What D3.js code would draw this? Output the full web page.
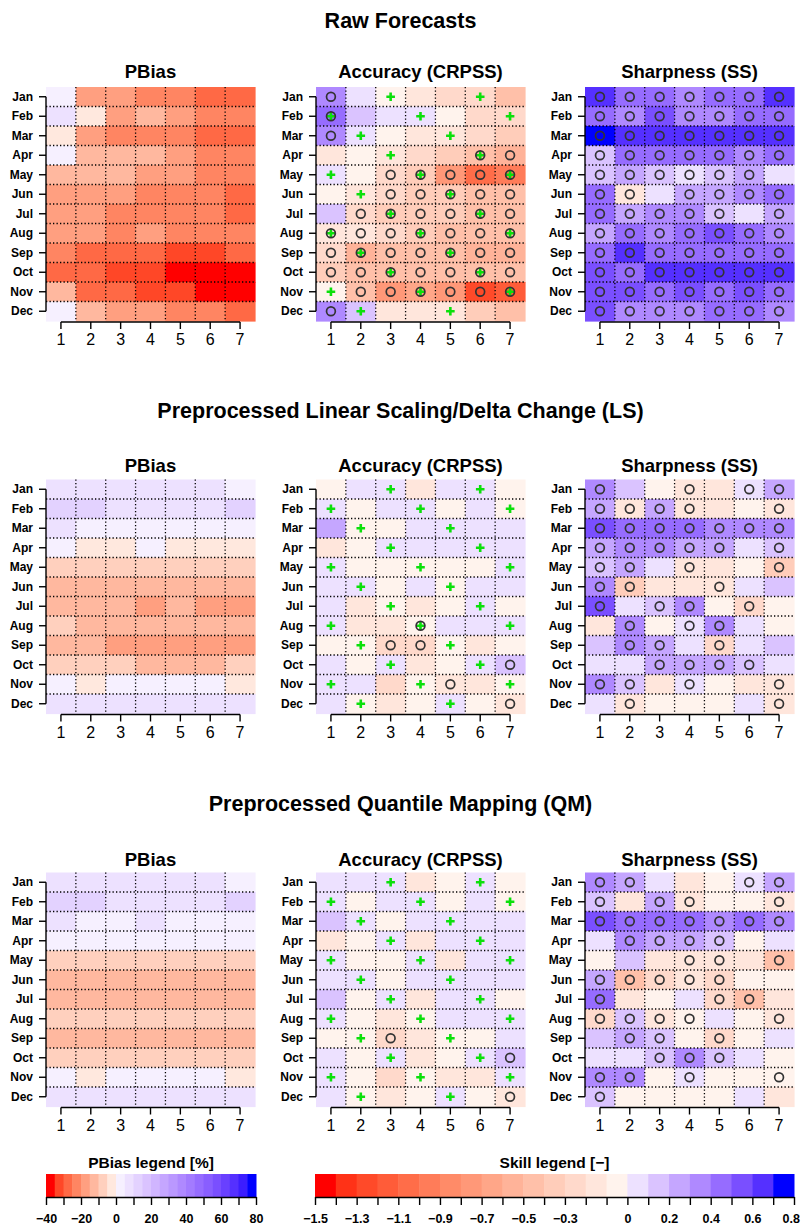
<!DOCTYPE html>
<html>
<head>
<meta charset="utf-8">
<script src="https://cdn.jsdelivr.net/npm/d3@7"></script>
<style>
  body { margin: 0; background: #fff; }
  text { font-family: "Liberation Sans", Arial, Helvetica, sans-serif; fill: #000; }
</style>
</head>
<body>
<script>
// ---- categories -------------------------------------------------------
const months = ["Jan","Feb","Mar","Apr","May","Jun","Jul","Aug","Sep","Oct","Nov","Dec"];
const leads = [1, 2, 3, 4, 5, 6, 7];
const rowTitles = ["Raw Forecasts", "Preprocessed Linear Scaling/Delta Change (LS)", "Preprocessed Quantile Mapping (QM)"];
const panelTitles = ["PBias", "Accuracy (CRPSS)", "Sharpness (SS)"];

// ---- legend ticks ------------------------------------------------------
const pbiasLegendLabels = [-40, -20, 0, 20, 40, 60, 80];
const skillLegendLabels = [-1.5, -1.3, -1.1, -0.9, -0.7, -0.5, -0.3, 0, 0.2, 0.4, 0.6, 0.8];

// ---- values: rows = months, columns = lead 1..7 -------------------------
// marks: C = circle, G = green cross, B = both, . = none
const rawPBias = [
  [3,-17,-17,-22,-22,-27,-27],
  [8,-3,-17,-13,-17,-22,-22],
  [-3,-17,-22,-22,-22,-27,-27],
  [3,-12,-13,-13,-17,-22,-22],
  [-12,-12,-13,-17,-17,-22,-22],
  [-17,-17,-17,-22,-22,-22,-27],
  [-17,-17,-22,-22,-22,-22,-27],
  [-17,-17,-22,-17,-22,-22,-22],
  [-22,-27,-27,-27,-32,-32,-27],
  [-27,-27,-32,-32,-38,-38,-38],
  [-12,-27,-27,-32,-32,-38,-38],
  [3,-12,-17,-17,-22,-22,-27]
];
const rawCRPSS = [
  [0.35,0.05,-0.05,-0.15,-0.25,-0.25,-0.45],
  [0.45,0.15,0.05,0.05,-0.05,-0.25,-0.25],
  [0.35,0.05,-0.05,-0.15,-0.15,-0.25,-0.35],
  [-0.15,-0.05,-0.15,-0.25,-0.35,-0.45,-0.55],
  [0.05,-0.05,-0.25,-0.35,-0.75,-1.05,-0.95],
  [-0.05,-0.15,-0.25,-0.35,-0.35,-0.45,-0.45],
  [0.15,-0.25,-0.35,-0.35,-0.35,-0.45,-0.45],
  [-0.15,-0.15,-0.25,-0.35,-0.45,-0.45,-0.45],
  [-0.25,-0.55,-0.45,-0.45,-0.45,-0.55,-0.55],
  [-0.35,-0.45,-0.45,-0.45,-0.45,-0.45,-0.45],
  [-0.05,-0.45,-0.75,-0.65,-0.75,-1.25,-1.15],
  [0.35,0.15,-0.15,-0.15,-0.15,-0.35,-0.45]
];
const rawCRPSSMarks = ["C.G..G.","B..G..G","CG..G..","..G..BC","G.CBCCB",".GCCBCC",
                       ".CBCCBC","BCCBCCB","CBCCBCC","CCBCCBC","GCCBCCB","CG..G.."];
const rawSS = [
  [0.65,0.45,0.45,0.35,0.45,0.45,0.65],
  [0.45,0.35,0.55,0.35,0.35,0.45,0.45],
  [0.75,0.65,0.65,0.65,0.65,0.65,0.65],
  [0.15,0.45,0.45,0.45,0.45,0.35,0.45],
  [0.15,0.25,0.15,0.05,0.15,0.25,0.05],
  [0.45,-0.15,0.05,0.25,0.25,0.35,0.45],
  [0.45,0.25,0.35,0.35,0.15,0.05,0.25],
  [0.25,0.45,0.35,0.45,0.55,0.45,0.35],
  [0.45,0.65,0.45,0.45,0.45,0.45,0.45],
  [0.55,0.45,0.65,0.65,0.65,0.65,0.65],
  [0.55,0.55,0.45,0.55,0.45,0.55,0.45],
  [0.55,0.35,0.35,0.35,0.45,0.45,0.35]
];
const rawSSMarks = ["CCCCCCC","CCCCCCC","CCCCCCC","CCCCCCC","CCCCCC.","CC.CCCC",
                    "CCCCC.C","CCCCCCC","CCCCCCC","CCCCCCC","CCCCCCC","CCCCCCC"];

const lsPBias = [
  [8,8,8,8,8,8,3],
  [13,13,8,8,8,8,13],
  [8,3,3,3,3,3,3],
  [3,-3,-3,3,-3,-3,-3],
  [-8,-8,-8,-8,-8,-8,-8],
  [-13,-13,-13,-13,-13,-13,-13],
  [-13,-13,-13,-18,-13,-18,-18],
  [-8,-13,-13,-13,-13,-13,-13],
  [-13,-13,-18,-18,-18,-18,-18],
  [-8,-8,-8,-13,-13,-13,-8],
  [3,-3,3,3,3,3,-3],
  [8,8,8,8,8,8,8]
];
const lsCRPSS = [
  [-0.05,0.05,0.05,-0.15,0.05,0.05,-0.05],
  [0.05,-0.05,0.05,0.05,-0.05,0.05,-0.05],
  [0.25,-0.05,-0.05,0.05,0.05,0.05,0.05],
  [-0.15,-0.05,0.05,0.05,0.05,0.05,0.05],
  [0.05,-0.05,-0.05,-0.05,-0.05,-0.05,0.05],
  [0.05,0.05,-0.05,0.05,-0.05,0.05,0.05],
  [0.05,-0.15,-0.05,-0.15,-0.05,0.05,-0.05],
  [0.05,-0.15,-0.15,-0.05,0.05,0.05,0.05],
  [-0.05,-0.05,-0.25,-0.25,-0.05,-0.15,-0.05],
  [0.05,-0.05,0.05,-0.15,-0.05,0.05,0.15],
  [0.05,0.05,-0.25,-0.05,-0.15,-0.15,-0.05],
  [0.05,-0.05,-0.15,-0.05,0.05,-0.05,-0.15]
];
const lsCRPSSMarks = ["..G..G.","G..G..G",".G..G..","..G..G.","G..G..G",".G..G..",
                      "..G..G.","G..B..G",".GCCG..","..G..GC","G..GC.G",".G..G.C"];
const lsSS = [
  [0.35,0.15,-0.05,-0.15,-0.15,0.05,0.25],
  [0.25,-0.15,0.25,-0.15,-0.15,-0.05,-0.15],
  [0.55,0.45,0.45,0.45,0.35,0.35,0.35],
  [0.25,0.35,0.35,0.25,0.25,0.05,0.15],
  [0.15,0.25,0.05,-0.15,-0.15,-0.05,-0.35],
  [0.35,-0.35,-0.15,-0.15,-0.15,0.05,0.15],
  [0.55,0.05,0.15,0.35,-0.05,-0.25,-0.05],
  [-0.15,0.35,-0.05,0.05,0.35,0.05,-0.05],
  [0.15,0.35,0.25,0.05,-0.25,0.05,0.15],
  [0.05,0.05,0.25,0.25,0.25,0.15,0.05],
  [0.35,0.15,-0.15,0.05,-0.05,-0.15,-0.15],
  [0.05,-0.15,-0.05,-0.05,-0.05,0.05,-0.15]
];
const lsSSMarks = ["C..C.CC","CCCC..C","CCCCCCC","CCCCC.C","CC.C..C","CC..C..",
                   "C.CC.C.",".C.CC..",".CC.C..","..CCCC.","CC.C..C",".C....C"];

const qmPBias = [
  [8,8,8,8,8,8,3],
  [13,13,8,8,8,8,13],
  [8,3,3,8,3,3,3],
  [3,3,3,3,3,3,3],
  [-8,-8,-8,-8,-8,-8,-8],
  [-13,-13,-13,-13,-13,-13,-13],
  [-13,-13,-13,-13,-13,-13,-13],
  [-8,-8,-8,-8,-8,-8,-8],
  [-13,-13,-13,-13,-13,-13,-13],
  [-8,-8,-8,-8,-8,-8,-8],
  [3,-3,3,3,3,3,-3],
  [8,8,8,8,8,8,8]
];
const qmCRPSS = [
  [0.05,0.05,0.05,-0.15,-0.05,0.05,-0.05],
  [0.05,-0.05,0.05,0.05,-0.05,0.05,-0.05],
  [0.15,0.05,-0.05,0.05,0.05,0.05,0.05],
  [-0.15,-0.05,0.05,-0.15,0.05,0.05,0.05],
  [0.05,-0.05,-0.05,0.05,-0.15,0.05,0.05],
  [0.05,0.05,-0.05,0.05,0.05,0.05,0.05],
  [0.15,-0.05,0.05,-0.15,0.05,0.05,-0.05],
  [0.05,-0.05,-0.15,-0.05,0.05,0.05,0.05],
  [-0.05,-0.05,-0.25,-0.15,-0.05,-0.05,0.05],
  [0.05,-0.05,0.05,-0.15,-0.05,0.05,0.15],
  [0.05,-0.05,-0.25,-0.05,-0.15,-0.15,0.05],
  [0.05,-0.05,-0.15,-0.05,0.05,-0.05,-0.15]
];
const qmCRPSSMarks = ["..G..G.","G..G..G",".G..G..","..G..G.","G..G..G",".G..G..",
                      "..G..G.","G..G..G",".GC.G..","..G..GC","G..G..G",".G..G.C"];
const qmSS = [
  [0.35,0.25,0.05,-0.15,-0.05,0.05,0.25],
  [0.15,-0.15,0.25,-0.15,-0.05,-0.05,-0.15],
  [0.55,0.45,0.45,0.45,0.35,0.45,0.35],
  [0.05,0.35,0.25,0.25,0.15,-0.05,0.05],
  [-0.05,0.15,-0.15,-0.15,-0.15,-0.15,-0.45],
  [0.25,-0.45,-0.25,-0.15,-0.25,-0.05,-0.05],
  [0.45,-0.15,-0.05,0.05,-0.25,-0.45,-0.15],
  [-0.25,0.15,-0.15,-0.05,0.05,-0.05,-0.15],
  [0.15,0.25,0.15,-0.05,-0.25,-0.05,0.05],
  [0.05,0.05,0.15,0.35,0.15,0.05,-0.05],
  [0.35,0.35,-0.05,0.05,-0.05,-0.05,-0.05],
  [0.15,-0.05,-0.05,-0.05,-0.05,0.05,-0.15]
];
const qmSSMarks = ["CC...CC","C.CC..C","CCCCCCC",".CCCC..","...CC.C","CCCCC..",
                   "C...CC.","CCCC..C",".CC.C..","..CCC..","CC.C..C","C......"];

// ---- colour classes ----------------------------------------------------
const toRed = d3.interpolateLab("#ffffff", "#ff0000");
const toBlue = d3.interpolateLab("#ffffff", "#0000ff");
function binColor(v, step, nNeg, nPos) {
  if (v < 0) {
    const k = Math.min(nNeg, Math.max(1, Math.ceil(-v / step - 1e-9)));
    return toRed(k / nNeg);
  }
  const k = Math.min(nPos, Math.floor(v / step + 1e-9) + 1);
  return toBlue(k / nPos);
}
const pbiasColor = v => binColor(v, 5, 8, 16);
const skillColor = v => binColor(v, 0.1, 15, 8);

// ---- layout ------------------------------------------------------------
const W = 801, H = 1228;
const panelLeft = [46, 316, 585], panelW = 209;
const rowTop = [87, 479.5, 872.5], panelH = 234;
const rowTitleY = [27.5, 417.5, 810.5];
const panelTitleY = [78, 471.5, 865.5];

const svg = d3.select("body").append("svg")
  .attr("width", W).attr("height", H)
  .style("display", "block");
svg.append("rect").attr("width", W).attr("height", H).attr("fill", "#fff");

const panels = [
  [[rawPBias, null], [rawCRPSS, rawCRPSSMarks], [rawSS, rawSSMarks]],
  [[lsPBias, null],  [lsCRPSS, lsCRPSSMarks],   [lsSS, lsSSMarks]],
  [[qmPBias, null],  [qmCRPSS, qmCRPSSMarks],   [qmSS, qmSSMarks]]
];

function drawPanel(g, vals, marks, colorFn, left, top) {
  const x = d3.scaleBand().domain(leads).range([left, left + panelW]);
  const y = d3.scaleBand().domain(months).range([top, top + panelH]);
  const cells = [];
  months.forEach((m, i) => leads.forEach((l, j) => {
    cells.push({ m, l, v: vals[i][j], mark: marks ? marks[i][j] : "." });
  }));

  g.append("g").selectAll("rect").data(cells).join("rect")
    .attr("x", d => x(d.l)).attr("y", d => y(d.m))
    .attr("width", x.bandwidth() + 0.6).attr("height", y.bandwidth() + 0.6)
    .attr("fill", d => colorFn(d.v));

  // dotted cell separators
  const grid = g.append("g").attr("stroke", "#000").attr("stroke-width", 1.3)
    .attr("stroke-dasharray", "1.3,2.2").attr("fill", "none");
  leads.slice(1).forEach(l => grid.append("line")
    .attr("x1", x(l)).attr("x2", x(l)).attr("y1", top).attr("y2", top + panelH));
  months.slice(1).forEach(m => grid.append("line")
    .attr("x1", left).attr("x2", left + panelW).attr("y1", y(m)).attr("y2", y(m)));

  // markers
  const cx = d => x(d.l) + x.bandwidth() / 2, cy = d => y(d.m) + y.bandwidth() / 2;
  const greens = cells.filter(d => d.mark === "G" || d.mark === "B");
  g.append("g").attr("stroke", "#0be00b").attr("stroke-linecap", "butt")
    .selectAll("path").data(greens).join("path")
    .attr("stroke-width", 2.6)
    .attr("d", d => `M${cx(d) - 4.3},${cy(d)}H${cx(d) + 4.3}M${cx(d)},${cy(d) - 4.3}V${cy(d) + 4.3}`);
  g.append("g").selectAll("circle")
    .data(cells.filter(d => d.mark === "C" || d.mark === "B")).join("circle")
    .attr("cx", cx).attr("cy", cy).attr("r", 4.4)
    .attr("fill", "none").attr("stroke", "#333").attr("stroke-width", 1.7);

  // axes
  const ya = g.append("g").attr("transform", `translate(${left},0)`)
    .call(d3.axisLeft(y).tickSize(7).tickPadding(6).tickSizeOuter(0));
  ya.select(".domain").remove();
  ya.append("line").attr("x1", 0).attr("x2", 0)
    .attr("y1", y("Jan") + y.bandwidth() / 2).attr("y2", y("Dec") + y.bandwidth() / 2)
    .attr("stroke", "#000").attr("stroke-width", 1.4);
  ya.selectAll(".tick line").attr("stroke-width", 1.4);
  ya.selectAll("text").attr("font-size", 12).attr("font-weight", "bold").attr("font-family", null);

  const xa = g.append("g").attr("transform", `translate(0,${top + panelH + 1})`)
    .call(d3.axisBottom(x).tickSize(7).tickPadding(5).tickSizeOuter(0));
  xa.select(".domain").remove();
  xa.append("line")
    .attr("x1", x(1) + x.bandwidth() / 2).attr("x2", x(7) + x.bandwidth() / 2)
    .attr("stroke", "#000").attr("stroke-width", 1.4);
  xa.selectAll(".tick line").attr("stroke-width", 1.4);
  xa.selectAll("text").attr("font-size", 16).attr("font-family", null);
}

panels.forEach((row, r) => {
  svg.append("text").attr("x", 400.5).attr("y", rowTitleY[r])
    .attr("text-anchor", "middle").attr("font-weight", "bold").attr("font-size", 21.5)
    .text(rowTitles[r]);
  row.forEach(([vals, marks], c) => {
    const g = svg.append("g");
    drawPanel(g, vals, marks, c === 0 ? pbiasColor : skillColor, panelLeft[c], rowTop[r]);
    g.append("text").attr("x", panelLeft[c] + panelW / 2).attr("y", panelTitleY[r])
      .attr("text-anchor", "middle").attr("font-weight", "bold").attr("font-size", 18.5)
      .text(panelTitles[c]);
  });
});

// ---- legends -----------------------------------------------------------
const legTop = 1174, legH = 23;
function drawLegend(x0, x1, lo, hi, step, colorFn, tickEvery, labels, fmt, title) {
  const xs = d3.scaleLinear().domain([lo, hi]).range([x0, x1]);
  const nb = Math.round((hi - lo) / step);
  const bins = d3.range(nb).map(i => lo + i * step);
  const g = svg.append("g");
  g.selectAll("rect").data(bins).join("rect")
    .attr("x", b => xs(b)).attr("y", legTop)
    .attr("width", b => xs(b + step) - xs(b) + 0.5).attr("height", legH)
    .attr("fill", b => colorFn(b + step / 2));
  const nt = Math.round((hi - lo) / tickEvery);
  const ticks = d3.range(nt + 1).map(i => lo + i * tickEvery);
  const ax = g.append("g").attr("transform", `translate(0,${legTop + legH})`)
    .call(d3.axisBottom(xs).tickValues(ticks).tickSize(8).tickPadding(9).tickSizeOuter(0)
      .tickFormat(v => labels.some(l => Math.abs(l - v) < 1e-6) ? fmt(v) : ""));
  ax.selectAll("path, line").attr("stroke-width", 1.4);
  ax.selectAll("text").attr("font-size", 12.5).attr("font-weight", "bold").attr("font-family", null);
  // keep the last label inside the page edge
  ax.selectAll("text").filter(function () {
    const b = this.getBBox(), t = this.parentNode.getAttribute("transform");
    const tx = +/translate\(([-\d.]+)/.exec(t)[1];
    return tx + b.x + b.width > W - 1;
  }).attr("dx", function () {
    const b = this.getBBox(), t = this.parentNode.getAttribute("transform");
    const tx = +/translate\(([-\d.]+)/.exec(t)[1];
    return (W - 1) - (tx + b.x + b.width);
  });
  g.append("text").attr("x", (x0 + x1) / 2).attr("y", 1168)
    .attr("text-anchor", "middle").attr("font-weight", "bold").attr("font-size", 15.5)
    .text(title);
}
drawLegend(46, 256, -40, 80, 5, pbiasColor, 10, pbiasLegendLabels,
  d3.format("d"), "PBias legend [%]");
drawLegend(315, 794, -1.5, 0.8, 0.1, skillColor, 0.1, skillLegendLabels,
  v => Math.abs(v) < 1e-9 ? "0" : d3.format(".1f")(v), "Skill legend [\u2212]");
</script>
</body>
</html>
